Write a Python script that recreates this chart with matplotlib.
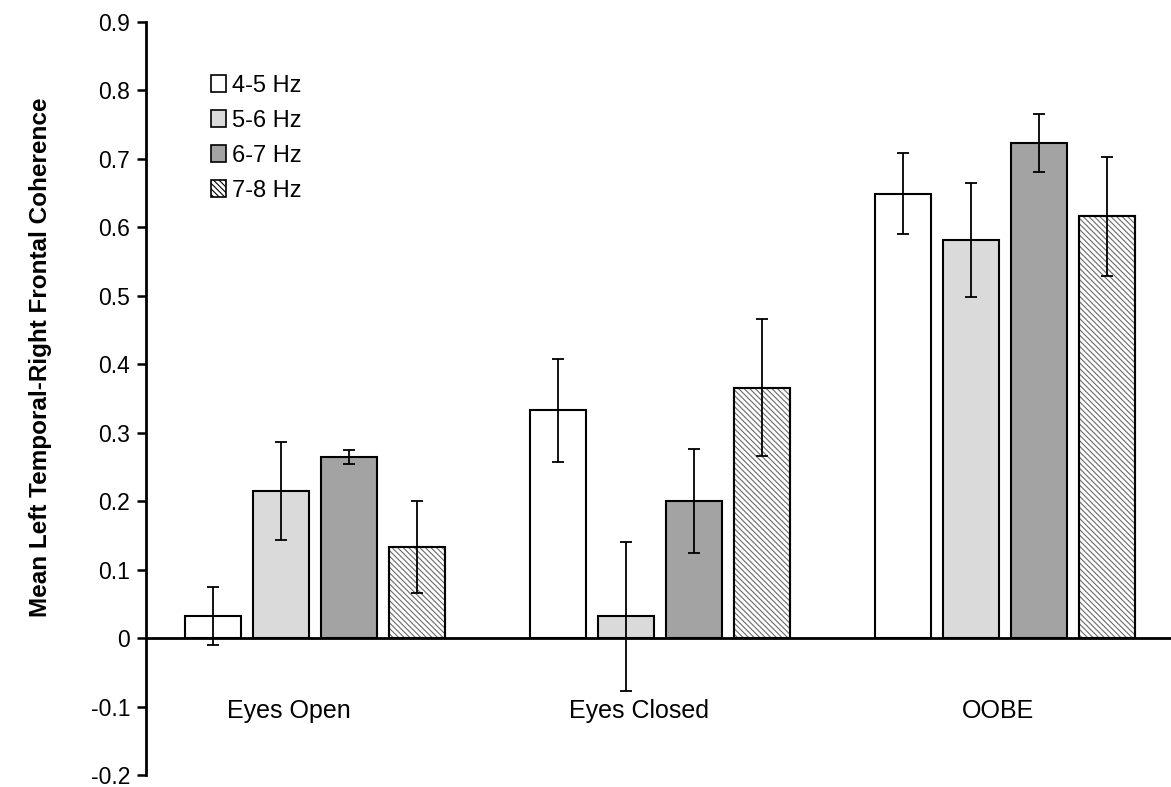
import matplotlib
matplotlib.use("Agg")
import matplotlib.pyplot as plt
import numpy as np

plt.rcParams['font.family'] = ['Liberation Sans', 'DejaVu Sans']
plt.rcParams['hatch.linewidth'] = 0.8

conditions = ["Eyes Open", "Eyes Closed", "OOBE"]
bands = ["4-5 Hz", "5-6 Hz", "6-7 Hz", "7-8 Hz"]
means = {
    "4-5 Hz": [0.032, 0.333, 0.649],
    "5-6 Hz": [0.215, 0.032, 0.582],
    "6-7 Hz": [0.265, 0.200, 0.723],
    "7-8 Hz": [0.133, 0.366, 0.616],
}
errors = {
    "4-5 Hz": [0.042, 0.075, 0.059],
    "5-6 Hz": [0.071, 0.109, 0.083],
    "6-7 Hz": [0.010, 0.076, 0.042],
    "7-8 Hz": [0.067, 0.100, 0.087],
}
yticks = [-0.2, -0.1, 0, 0.1, 0.2, 0.3, 0.4, 0.5, 0.6, 0.7, 0.8, 0.9]
ytick_labels = ["-0.2", "-0.1", "0", "0.1", "0.2", "0.3", "0.4", "0.5", "0.6", "0.7", "0.8", "0.9"]
label_shift = [-0.075, -0.061, -0.02]

styles = {
    "4-5 Hz": dict(facecolor="white", hatch=None),
    "5-6 Hz": dict(facecolor="#dadada", hatch=None),
    "6-7 Hz": dict(facecolor="#a3a3a3", hatch=None),
    "7-8 Hz": dict(facecolor="white", hatch="\\\\\\\\\\\\"),
}

fig = plt.figure(figsize=(11.71, 7.87), dpi=100)
ax = fig.add_axes([0.1247, 0.0152, 0.8753, 0.9568])

x = np.arange(len(conditions))
width = 0.162
step = 0.197
for i, b in enumerate(bands):
    pos = x + (i - 1.5) * step
    st = styles[b]
    bars = ax.bar(pos, means[b], width, facecolor=st["facecolor"], edgecolor="black",
                  linewidth=1.5, hatch=st["hatch"], label=b, zorder=2)
    if st["hatch"]:
        for p in bars:
            p.set_edgecolor("#6a6a6a")
            ax.bar(p.get_x() + p.get_width() / 2, p.get_height(), width, facecolor="none",
                   edgecolor="black", linewidth=1.5, zorder=3)
    ax.errorbar(pos, means[b], yerr=errors[b], fmt="none", ecolor="black",
                elinewidth=1.3, capsize=4, capthick=1.3, zorder=4)

ax.axhline(0, color="black", linewidth=2.0, zorder=5)
ax.set_xlim(-0.49, 2.48)
ax.set_ylim(-0.2, 0.9)
ax.set_yticks(yticks)
ax.set_yticklabels(ytick_labels, fontsize=16.5)
ax.set_xticks([])
for s in ["top", "right", "bottom"]:
    ax.spines[s].set_visible(False)
ax.spines["left"].set_linewidth(2.0)
ax.tick_params(axis="y", direction="out", length=6.5, width=1.8, pad=5)

for xi, c, sh in zip(x, conditions, label_shift):
    ax.text(xi + sh, -0.106, c, ha="center", va="center", fontsize=18)

ax.set_ylabel("Mean Left Temporal-Right Frontal Coherence", fontsize=17.5,
              fontweight="bold")
ax.yaxis.set_label_coords(-0.092, 0.555)

handles, labels = ax.get_legend_handles_labels()
leg = ax.legend(handles, labels, loc="upper left", bbox_to_anchor=(0.063, 0.93),
                frameon=False, fontsize=17, handlelength=0.65, handleheight=0.75,
                handletextpad=0.25, labelspacing=0.55, borderaxespad=0.0, borderpad=0.0)
for h in leg.legend_handles:
    h.set_edgecolor("black")
    h.set_linewidth(1.2)

fig.savefig("out.png", dpi=100)
